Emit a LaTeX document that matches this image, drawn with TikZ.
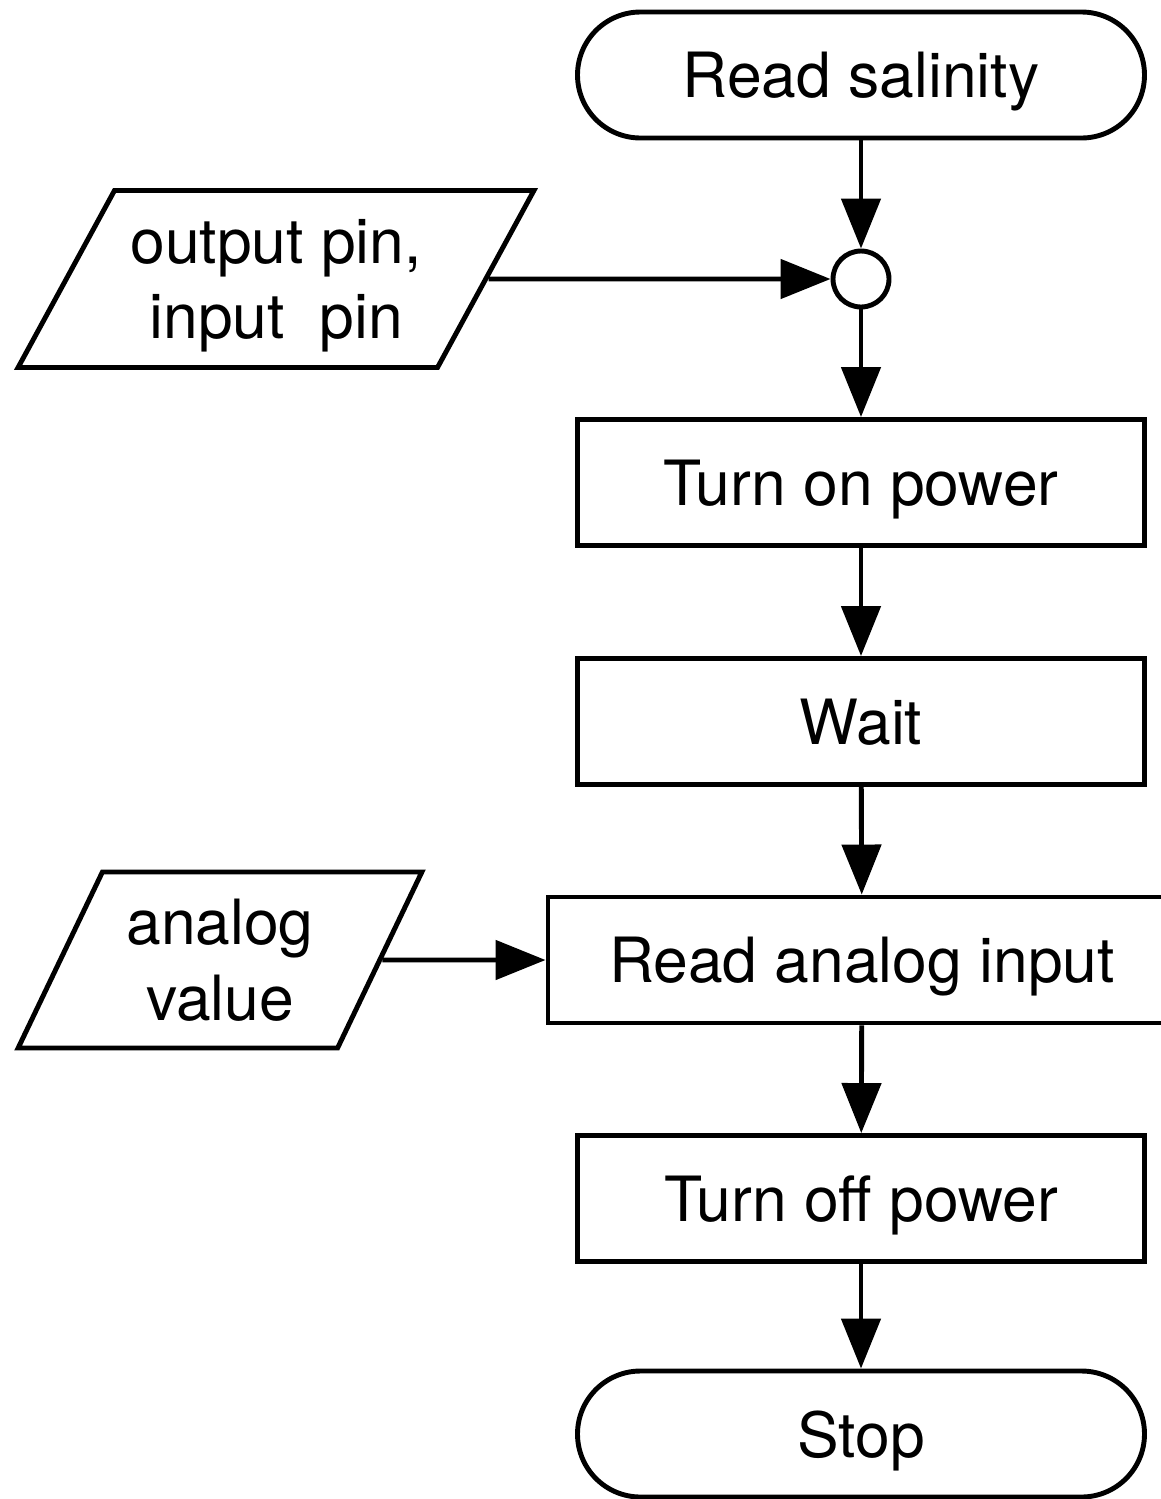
\documentclass[tikz,border=0pt]{standalone}
\usepackage{fontspec}
\setmainfont{TeX Gyre Heros}
\usetikzlibrary{arrows.meta,shapes.geometric}

\begin{document}
\begin{tikzpicture}[
	line width=2.8pt,
	font=\fontsize{35.5}{43}\selectfont,
	every node/.style={text depth=0pt},
	terminal/.style={draw,rounded corners=1.26cm,minimum width=11.34cm,minimum height=2.52cm},
	process/.style={draw,minimum width=11.34cm,minimum height=2.52cm},
	io/.style={draw,trapezium,trapezium stretches,align=center,inner sep=0pt},
	junction/.style={draw,circle,minimum size=1.12cm,inner sep=0pt},
	flow/.style={-{Triangle[length=1cm,width=0.78cm]}}
]
\useasboundingbox (0,0) rectangle (23.22,-29.98);
\node[terminal] (start) at (17.22,-1.5) {Read salinity};
\node[junction] (junc) at (17.22,-5.58) {};
\node[io,trapezium left angle=54,trapezium right angle=126,minimum width=10.34cm,minimum height=3.54cm] (pins) at (5.52,-5.58) {output pin,\\input\ \ pin};
\node[process] (power) at (17.22,-9.65) {Turn on power};
\node[process] (wait) at (17.22,-14.43) {Wait};
\node[process,minimum width=12.56cm] (readin) at (17.24,-19.2) {Read analog input};
\node[io,trapezium left angle=61,trapezium right angle=119,minimum width=8.08cm,minimum height=3.52cm] (value) at (4.4,-19.2) {analog\\value};
\node[process] (poweroff) at (17.22,-23.97) {Turn off power};
\node[terminal] (stop) at (17.22,-28.68) {Stop};
\draw[flow] (start) -- (junc);
\draw[flow] (pins.east) -- (junc.west);
\draw[flow] (junc) -- (power);
\draw[flow] (power) -- (wait);
\draw[flow] (wait) -- (readin);
\draw[flow] (value.east) -- (readin.west);
\draw[flow] (readin) -- (poweroff);
\draw[flow] (poweroff) -- (stop);
\end{tikzpicture}
\end{document}
